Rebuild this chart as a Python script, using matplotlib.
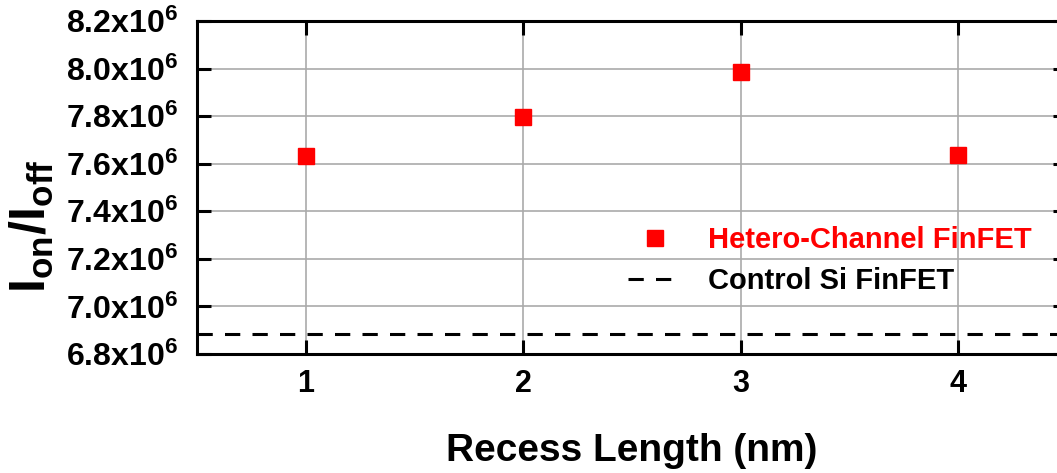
import matplotlib
matplotlib.use("Agg")
import matplotlib.pyplot as plt

# data
recess_length = [1, 2, 3, 4]
ion_ioff_hetero = [7.632e6, 7.795e6, 7.986e6, 7.638e6]
ion_ioff_control = 6.886e6

yticks = [6.8e6, 7.0e6, 7.2e6, 7.4e6, 7.6e6, 7.8e6, 8.0e6, 8.2e6]
ytick_labels = ["6.8x10$^{6}$", "7.0x10$^{6}$", "7.2x10$^{6}$", "7.4x10$^{6}$",
                "7.6x10$^{6}$", "7.8x10$^{6}$", "8.0x10$^{6}$", "8.2x10$^{6}$"]

plt.rcParams["font.family"] = ["Liberation Sans", "DejaVu Sans"]
plt.rcParams["font.weight"] = "bold"
plt.rcParams["axes.labelweight"] = "bold"
plt.rcParams["mathtext.fontset"] = "custom"
plt.rcParams["mathtext.rm"] = "Liberation Sans:bold"
plt.rcParams["mathtext.bf"] = "Liberation Sans:bold"
plt.rcParams["mathtext.it"] = "Liberation Sans:bold"

fig = plt.figure(figsize=(10.57, 4.73), dpi=100)
ax = fig.add_axes([0.1864, 0.2516, 0.823, 0.704])

ax.axhline(ion_ioff_control, color="black", lw=2.2, dashes=(5, 4), label="Control Si FinFET")
ax.plot(recess_length, ion_ioff_hetero, "s", color="red", ms=11, label="Hetero-Channel FinFET")

ax.set_xlim(0.5, 4.5)
ax.set_ylim(6.8e6, 8.2e6)
ax.set_xticks(recess_length)
ax.set_xticklabels([str(v) for v in recess_length])
ax.set_yticks(yticks)
ax.set_yticklabels(ytick_labels)
ax.grid(True, color="#aaaaaa", lw=1.2)
ax.set_axisbelow(True)

ax.tick_params(direction="in", length=10, width=2.2, labelsize=22, top=True, right=True)
ax.tick_params(axis="y", labelsize=23, pad=14)
ax.tick_params(axis="x", pad=11)
for s in ax.spines.values():
    s.set_linewidth(2.2)

ax.set_xlabel("Recess Length (nm)", fontsize=28, labelpad=24)
ax.set_ylabel("I$_{on}$/I$_{off}$", fontsize=36)
ax.yaxis.set_label_coords(-0.162, 0.385)

h, l = ax.get_legend_handles_labels()
leg = ax.legend(h[::-1], l[::-1], loc="center left", bbox_to_anchor=(0.495, 0.28),
                frameon=False, fontsize=21, handlelength=1.9, handletextpad=0.85,
                labelspacing=0.45, borderpad=0, borderaxespad=0)
leg.get_texts()[0].set_color("red")

fig.savefig("out.png", dpi=100)
